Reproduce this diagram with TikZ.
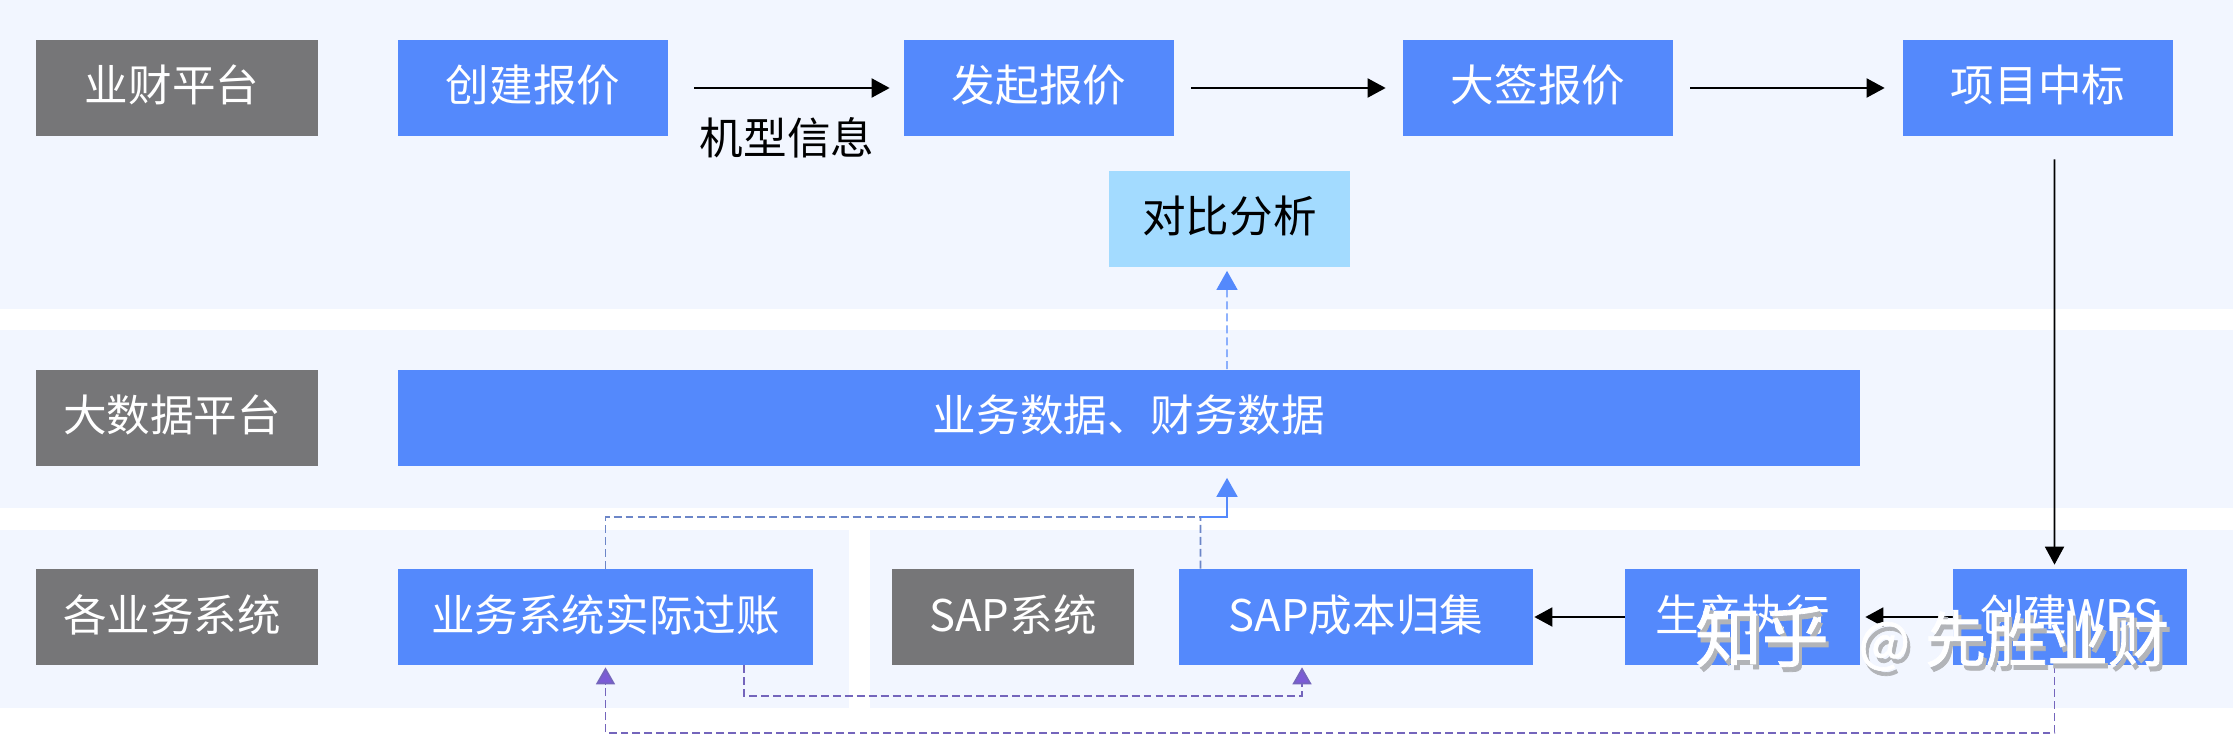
\documentclass[tikz,border=0pt]{standalone}
\usepackage{fontspec}
\setmainfont{Noto Sans CJK SC}
\newfontfamily\wmfont[FakeBold=1.2]{Noto Sans CJK SC}
\usepackage{xcolor}
\usetikzlibrary{arrows.meta}

\definecolor{bandbg}{HTML}{F2F6FF}
\definecolor{boxgray}{HTML}{767678}
\definecolor{boxblue}{HTML}{5489FC}
\definecolor{boxlight}{HTML}{A3DBFF}
\definecolor{dashblue}{HTML}{6C86C8}
\definecolor{dashpurple}{HTML}{7465BC}
\definecolor{tippurple}{HTML}{7B5BD6}
\definecolor{markshadow}{HTML}{B2B4B8}

\newcommand{\marktext}{\fontsize{38}{42}\selectfont 知乎\hspace{0.6cm}{\fontsize{31}{42}\selectfont @}\hspace{0.3cm}{\fontsize{34.7}{42}\selectfont 先胜业财}}

\tikzset{
    boxtext/.style={font=\fontsize{24.8}{28}\selectfont, inner sep=0pt, minimum height=1.92cm, text height=0.78cm, text depth=0.22cm},
    graybox/.style={boxtext, fill=boxgray, text=white, execute at end node={\hspace*{0.2cm}}},
    bluebox/.style={boxtext, fill=boxblue, text=white},
    lightbox/.style={boxtext, fill=boxlight, text=black},
    flowarrow/.style={-{Triangle[length=0.36cm,width=0.38cm]}, line width=1.1pt, black},
    bluedash/.style={dashblue, line width=1pt, dash pattern=on 4.5pt off 2.3pt},
    bluearrow/.style={-{Triangle[length=0.38cm,width=0.42cm]}, boxblue, line width=1pt},
    purpledash/.style={-{Triangle[length=0.34cm,width=0.38cm,fill=tippurple]}, dashpurple, line width=1pt, dash pattern=on 4.5pt off 2.3pt},
    markfont/.style={font=\wmfont, inner sep=0pt}
}

\begin{document}
\begin{tikzpicture}
    \useasboundingbox (0, 0) rectangle (44.66, 14.68);
    \fill[white] (0, 0) rectangle (44.66, 14.68);

    % Bands
    \fill[bandbg] (0, 8.50) rectangle (44.66, 14.68);
    \fill[bandbg] (0, 4.52) rectangle (44.66, 8.08);
    \fill[bandbg] (0, 0.52) rectangle (16.98, 4.08);
    \fill[bandbg] (17.40, 0.52) rectangle (44.66, 4.08);

    % Top row
    \node[graybox, minimum width=5.64cm] (ycpt) at (3.54, 12.92) {业财平台};
    \node[bluebox, minimum width=5.40cm] (cjbj) at (10.66, 12.92) {创建报价};
    \node[bluebox, minimum width=5.40cm] (fqbj) at (20.78, 12.92) {发起报价};
    \node[bluebox, minimum width=5.40cm] (dqbj) at (30.76, 12.92) {大签报价};
    \node[bluebox, minimum width=5.40cm] (xmzb) at (40.76, 12.92) {项目中标};
    \node[lightbox, minimum width=4.82cm] (dbfx) at (24.59, 10.31) {对比分析};
    \node[boxtext, minimum height=0pt] (jxxx) at (15.74, 11.88) {机型信息};

    % Middle row
    \node[graybox, minimum width=5.64cm] (dsjpt) at (3.54, 6.33) {大数据平台};
    \node[bluebox, minimum width=29.24cm] (ywsj) at (22.58, 6.33) {业务数据、财务数据};

    % Bottom row
    \node[graybox, minimum width=5.64cm] (gxt) at (3.54, 2.34) {各业务系统};
    \node[bluebox, minimum width=8.30cm] (ywgz) at (12.11, 2.34) {业务系统实际过账};
    \node[boxtext, fill=boxgray, text=white, minimum width=4.84cm] (sapxt) at (20.26, 2.34) {SAP系统};
    \node[bluebox, minimum width=7.08cm] (sapcb) at (27.12, 2.34) {SAP成本归集};
    \node[bluebox, minimum width=4.70cm] (scxz) at (34.85, 2.34) {生产执行};
    \node[bluebox, minimum width=4.68cm] (cjwbs) at (41.40, 2.34) {创建WBS};

    % Bends
    \coordinate (merge) at (24.01, 4.34);
    \coordinate (midbend) at (26.04, 0.76);
    \coordinate (lowbend) at (12.11, 0.02);

    % Main flow
    \draw[flowarrow, shorten <=0.52cm, shorten >=0.28cm] (cjbj) -- (fqbj);
    \draw[flowarrow, shorten <=0.34cm, shorten >=0.34cm] (fqbj) -- (dqbj);
    \draw[flowarrow, shorten <=0.34cm, shorten >=0.36cm] (dqbj) -- (xmzb);
    \draw[flowarrow, shorten <=0.46cm, shorten >=0.08cm] ([xshift=0.33cm]xmzb.south) -- ([xshift=-0.31cm]cjwbs.north);
    \draw[flowarrow, shorten >=0.10cm] (cjwbs) -- (scxz);
    \draw[flowarrow, shorten >=0.02cm] (scxz) -- (sapcb);

    % Blue dashed lines
    \draw[bluedash] (ywgz.north) |- (merge);
    \draw[bluedash] ([xshift=-3.11cm]sapcb.north) -- (merge);
    \draw[bluearrow, shorten >=0.24cm] (merge) -| ([xshift=1.96cm]ywsj.south);
    \draw[bluearrow, dash pattern=on 4.5pt off 2.3pt, line width=0.7pt, shorten >=0.08cm] ([xshift=1.96cm]ywsj.north) -- ([xshift=-0.05cm]dbfx.south);

    % Purple dashed lines
    \draw[purpledash, shorten >=0.04cm] ([xshift=2.77cm]ywgz.south) |- (midbend) -- ([xshift=-1.08cm]sapcb.south);
    \draw[purpledash, shorten >=0.04cm] ([xshift=-0.31cm]cjwbs.south) |- (lowbend) -- (ywgz.south);

    % Watermark
    \node[markfont, text=markshadow] (wmshadow) at (38.70, 1.82) {\marktext};
    \node[markfont, text=white] (wmark) at (38.64, 1.92) {\marktext};

\end{tikzpicture}
\end{document}
